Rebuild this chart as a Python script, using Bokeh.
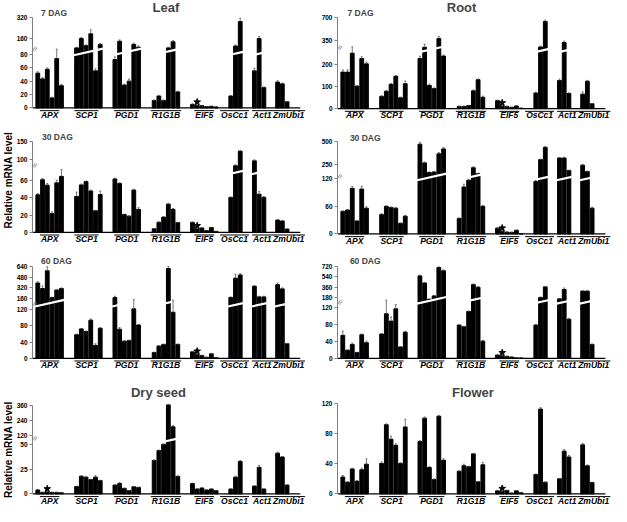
import math
from bokeh.plotting import figure
from bokeh.layouts import column, row
from bokeh.models import Range1d, FixedTicker, Label, Title
from bokeh.embed import file_html
from bokeh.resources import INLINE
from bokeh.core.properties import value

# ---------------- data ----------------
genes = ["APX", "SCP1", "PGD1", "R1G1B", "EIF5", "OsCc1", "Act1", "ZmUbi1"]

leaf_7dag = [[52, 43.4, 57.8, 15, 73.7, 33.3], [90, 160, 107, 196, 55.4, 116],
             [72.3, 140, 34.2, 40, 116, 95], [11, 17.8, 11, 90, 136, 24],
             [5, 4, 3.4, 2, 2.4, 1.5], [17.8, 104, 288], [55.4, 160, 30.4], [38.6, 36, 9.2]]
leaf_7dag_err = [[2, 2, 2, 1, 7, 2], [5, 8, 5, 30, 3, 8], [4, 10, 1.5, 3, 10, 10],
                 [1, 1, 1, 5, 8, 1], [1.5, 0.5, 0.5, 0.3, 0.3, 0.2], [1, 8, 25], [4, 15, 1], [2, 1, 0.5]]
leaf_7dag_ticks = [0, 20, 40, 60, 80, 160, 320]

root_7dag = [[164, 164, 249, 101, 225, 201], [55, 78, 109, 145, 49, 112],
             [225, 255, 104, 90, 384, 236], [10, 10, 14, 80, 130, 51],
             [36, 12, 10, 6, 12, 2], [70, 260, 638], [126, 326, 68], [65, 123, 22]]
root_7dag_err = [[10, 10, 12, 3, 8, 8], [3, 4, 4, 4, 3, 12], [10, 45, 6, 3, 30, 5],
                 [1, 1, 1, 4, 3, 5], [2, 1, 1, 0.5, 1, 0.3], [4, 10, 20], [6, 20, 3], [10, 4, 1]]
root_7dag_ticks = [0, 100, 200, 350, 700]

leaf_30dag = [[43.5, 61, 54.7, 21.7, 57.4, 64.9], [41.6, 55, 58.9, 48, 25, 43.9],
              [61.9, 56.6, 20.6, 18.7, 49, 26.6], [4.1, 11.6, 17.6, 32.6, 26.6, 11.2],
              [11.5, 4, 5, 2, 5.5, 1], [40.5, 81.8, 122.7], [95.5, 44.2, 40.5], [14.2, 13.1, 3.7]]
leaf_30dag_err = [[1.5, 1.5, 2, 2, 3, 6], [5, 1, 0.5, 1, 0.5, 4], [1, 1, 0.5, 0.5, 1, 2],
                  [0.3, 0.5, 0.5, 1, 1, 0.5], [0.5, 0.3, 0.3, 0.2, 0.3, 0.1], [0.5, 3, 2], [3, 3, 1], [0.5, 0.5, 0.3]]
leaf_30dag_ticks = [0, 20, 40, 60, 100, 150]

root_30dag = [[49, 52, 99, 28, 97.5, 56], [42, 60, 57.5, 56, 23, 38.6],
              [471, 264, 157, 164, 364, 418], [33.7, 102, 116.5, 211, 145, 60],
              [12.6, 6, 4, 3.5, 8, 0.5], [114, 300, 436], [318, 318, 179], [239, 168, 56]]
root_30dag_err = [[1, 1, 4, 1, 6, 3], [2, 1, 1, 1, 1, 2], [20, 10, 8, 3, 15, 15],
                  [1, 6, 2, 10, 5, 2], [1, 0.5, 0.3, 0.3, 0.5, 0.1], [2, 5, 8], [5, 8, 5], [10, 5, 2]]
root_30dag_ticks = [0, 60, 120, 250, 500]

leaf_60dag = [[392.6, 308, 580, 170, 284, 308], [58.4, 72.8, 66.4, 94.4, 32, 74.4],
              [170, 72, 42.4, 44, 122.4, 82.4], [14.4, 30.4, 34.4, 615, 114, 34.4],
              [16, 10, 7, 2.4, 11, 1.5], [170, 467, 516], [343, 180, 180], [368, 303, 36]]
leaf_60dag_err = [[20, 40, 60, 5, 10, 10], [1.5, 1, 1, 3, 4, 1.5], [20, 4, 1, 1, 14, 1.5],
                  [0.5, 0.5, 0.5, 30, 15, 1], [1, 0.5, 0.5, 0.2, 1, 0.1], [10, 60, 20], [10, 10, 10], [25, 15, 1]]
leaf_60dag_ticks = [0, 40, 80, 120, 160, 320, 480, 640]

root_60dag = [[54.6, 19.2, 33, 13.8, 56, 37], [57.7, 106, 88.5, 117.7, 27, 62.3],
              [553, 430, 150, 208, 698, 642], [79, 75, 111.5, 403, 358, 40.8],
              [7.7, 6, 4.6, 3, 1, 0.5], [79, 180, 364], [158, 319, 93], [291, 291, 33]]
root_60dag_err = [[10, 1, 3, 0.5, 2, 4], [1, 30, 10, 10, 1, 2], [15, 10, 8, 10, 10, 15],
                  [1, 1, 1, 10, 10, 2], [0.5, 0.5, 0.3, 0.3, 0.1, 0.1], [2, 10, 5], [8, 25, 2], [5, 5, 1]]
root_60dag_ticks = [0, 40, 80, 120, 180, 360, 540, 720]

dry_seed = [[4, 1.5, 2, 1.5, 1.5, 1.2], [7.5, 18, 17, 14.5, 17, 13.5],
            [8.9, 10.5, 5.6, 3.3, 7.2, 6.6], [34, 44, 55, 362, 191, 17.8],
            [10.5, 4.9, 5.9, 3.9, 4.9, 3.3], [4.9, 17, 32.9], [7.9, 27, 4.9], [41.4, 37.5, 8.9]]
dry_seed_err = [[0.3, 0.2, 0.2, 0.2, 0.2, 0.1], [0.3, 0.3, 0.5, 0.3, 1.5, 0.3], [0.3, 1, 0.3, 0.2, 0.3, 0.2],
                [0.5, 0.5, 1, 5, 10, 0.5], [0.5, 0.3, 0.5, 0.3, 0.3, 0.2], [0.3, 1, 1], [0.3, 2, 0.3], [1, 0.5, 0.3]]
dry_seed_ticks = [0, 25, 50, 120, 240, 360]

flower = [[22.3, 15.4, 33, 16.7, 32, 39.4], [40.3, 91.7, 72.4, 64.3, 40.3, 88.7],
          [69.4, 100.3, 35, 18.9, 102.9, 44.6], [30, 37.3, 36, 53, 15.9, 38.6],
          [4, 3, 4.5, 1, 4, 1.5], [25.7, 112.3, 15.4], [20, 56.6, 48.9], [65, 37.3, 15]]
flower_err = [[2, 1, 1, 1, 2, 7], [2, 1, 4, 2, 1, 10], [1, 1.5, 1, 1, 1, 2],
              [0.5, 2, 0.5, 0.5, 0.5, 3], [0.3, 0.3, 0.3, 0.1, 0.3, 0.1], [0.5, 2, 0.5], [0.5, 2, 2], [2, 1, 0.5]]
flower_ticks = [0, 40, 80, 120]

# significance star: (gene, bar index)
star_leaf_7dag = ("EIF5", 1)
star_root_7dag = ("EIF5", 1)
star_leaf_30dag = ("EIF5", 1)
star_root_30dag = ("EIF5", 1)
star_leaf_60dag = ("EIF5", 1)
star_root_60dag = ("EIF5", 1)
star_dry_seed = ("APX", 2)
star_flower = ("EIF5", 1)

y_title = "Relative mRNA level"

# ---------------- layout ----------------
FONT = "Liberation Sans"
group_start = [0, 8.2, 16.3, 24.6, 32.7, 40.8, 45.8, 50.7]
label_shift = [0, -0.4, 0, 0, 0, -0.2, 0.65, 1.35]
em = {"A": .722, "P": .667, "X": .667, "S": .667, "C": .722, "1": .556, "G": .778, "D": .722,
      "R": .722, "B": .722, "E": .667, "I": .278, "F": .611, "O": .778, "s": .556, "c": .556,
      "t": .333, "Z": .611, "m": .889, "U": .722, "b": .611, "i": .278, "5": .556}
LABEL_PX = 8.5
PX_PER_UNIT = 4.73
row_bounds = [(0, 125), (125, 255), (255, 385), (385, 522)]
row_heights = [121, 126, 126, 133]
col_widths = [305, 306]
col_xend = [57.1, 57.3]

specs = [
    dict(vals=leaf_7dag, errs=leaf_7dag_err, ticks=leaf_7dag_ticks, star=star_leaf_7dag,
         base=111, L=80, lo_top=55.33, up_px=(71.67, 93.67), slash0=54.5, brk=61,
         sub=("7 DAG", 1.2, 98.5), title=("Leaf", 27.6, 104), ylab=None),
    dict(vals=root_7dag, errs=root_7dag_err, ticks=root_7dag_ticks, star=star_root_7dag,
         base=111.7, L=250, lo_top=46, up_px=(70, 94.33), slash0=58, brk=63,
         sub=("7 DAG", 1.5, 99.2), title=("Root", 25.6, 104.7), ylab=None),
    dict(vals=leaf_30dag, errs=leaf_30dag_err, ticks=leaf_30dag_ticks, star=star_leaf_30dag,
         base=239.3, L=65, lo_top=53.33, up_px=(75.33, 93.67), slash0=60, brk=69,
         sub=("30 DAG", 1.4, 98), title=None, ylab=19),
    dict(vals=root_30dag, errs=root_30dag_err, ticks=root_30dag_ticks, star=star_root_30dag,
         base=241, L=125, lo_top=57, up_px=(72, 95.33), slash0=55.5, brk=59.5,
         sub=("30 DAG", 2, 99.3), title=None, ylab=None),
    dict(vals=leaf_60dag, errs=leaf_60dag_err, ticks=leaf_60dag_ticks, star=star_leaf_60dag,
         base=369.3, L=128, lo_top=50, up_px=(62, 94.33), slash0=53.5, brk=56,
         sub=("60 DAG", 1.2, 100.6), title=None, ylab=None),
    dict(vals=root_60dag, errs=root_60dag_err, ticks=root_60dag_ticks, star=star_root_60dag,
         base=369.3, L=130, lo_top=52, up_px=(62.67, 95), slash0=56.5, brk=57.7,
         sub=("60 DAG", 2, 100.6), title=None, ylab=None),
    dict(vals=dry_seed, errs=dry_seed_err, ticks=dry_seed_ticks, star=star_dry_seed,
         base=509, L=50, lo_top=50.67, up_px=(59.67, 91.33), slash0=51, brk=57.3,
         sub=None, title=("Dry seed", 26, 104), ylab=8.5),
    dict(vals=flower, errs=flower_err, ticks=flower_ticks, star=star_flower,
         base=509, L=float("inf"), lo_top=93.33, up_px=None, slash0=None, brk=None,
         sub=None, title=("Flower", 28, 104), ylab=None),
]


def make_tf(ticks, L, lo_top, up_px):
    lower = [t for t in ticks if t <= L]
    upper = [t for t in ticks if t > L]
    s_lo = lo_top / lower[-1]
    s_up = (up_px[1] - up_px[0]) / (upper[-1] - upper[0]) if upper else 0.0

    def tf(v):
        v = float(v)
        if v <= L:
            return v * s_lo
        return up_px[0] + (v - upper[0]) * s_up
    return tf


def build(spec, ri, ci):
    tf = make_tf(spec["ticks"], spec["L"], spec["lo_top"], spec["up_px"])
    r0, r1 = row_bounds[ri]
    p = figure(width=col_widths[ci], height=row_heights[ri],
               x_range=Range1d(-0.62, col_xend[ci]),
               y_range=Range1d(spec["base"] - r1, spec["base"] - r0),
               output_backend="svg", toolbar_location=None, x_axis_location=None,
               min_border_left=32, min_border_right=0, min_border_top=0, min_border_bottom=0,
               outline_line_color=None, background_fill_color="white", border_fill_color="white")
    p.grid.visible = False

    xs, tops, e_top, e_bot = [], [], [], []
    slash_x0, slash_x1, slash_y0, slash_y1 = [], [], [], []
    for gi, (vals, errs) in enumerate(zip(spec["vals"], spec["errs"])):
        gs = group_start[gi]
        broken = False
        for bi, (v, e) in enumerate(zip(vals, errs)):
            x = gs + bi + 0.5
            xs.append(x)
            tops.append(tf(v))
            e_bot.append(tf(v))
            e_top.append(tf(v + e))
            if v > spec["L"]:
                broken = True
        if broken:
            n = len(vals)
            slash_x0.append(gs - 0.1)
            slash_x1.append(gs + n + 0.1)
            slash_y0.append(spec["slash0"] - 0.11)
            slash_y1.append(spec["slash0"] + 1.1 * (n + 0.1))

    p.vbar(x=xs, top=tops, bottom=0, width=0.8, color="black")
    if slash_x0:
        p.segment(x0=slash_x0, y0=slash_y0, x1=slash_x1, y1=slash_y1,
                  line_color="white", line_width=2.2)
    p.segment(x0=xs, y0=e_bot, x1=xs, y1=e_top, line_color="#555555", line_width=0.8)
    p.segment(x0=[x - 0.2 for x in xs], y0=e_top, x1=[x + 0.2 for x in xs], y1=e_top,
              line_color="#555555", line_width=0.8)

    # star
    sg, sb = spec["star"]
    gi = genes.index(sg)
    sv = spec["vals"][gi][sb] + spec["errs"][gi][sb]
    p.scatter(x=[group_start[gi] + sb + 0.5], y=[tf(sv) + 3], marker="star", size=7,
              fill_color="black", line_color="black")

    # baseline
    p.segment(x0=[-0.62], y0=[0], x1=[56], y1=[0], line_color="black", line_width=1.2)

    # gene labels with overlines
    lx = [group_start[i] + len(spec["vals"][i]) / 2 + label_shift[i] for i in range(len(genes))]
    half = [(sum(em[c] for c in g) * LABEL_PX + 2) / PX_PER_UNIT / 2 for g in genes]
    p.segment(x0=[a - h for a, h in zip(lx, half)], y0=[-2.8] * len(genes),
              x1=[min(a + h, col_xend[ci] - 0.05) for a, h in zip(lx, half)], y1=[-2.8] * len(genes),
              line_color="black", line_width=1)
    p.text(x=lx, y=[-7] * len(genes), text=genes, text_font=value(FONT),
           text_font_style="bold italic", text_font_size=f"{LABEL_PX}px",
           text_align="center", text_baseline="middle", text_color="black")

    # y axis
    tick_pos = [round(tf(t), 3) for t in spec["ticks"]]
    ax = p.yaxis[0]
    ax.ticker = FixedTicker(ticks=tick_pos)
    ax.major_label_overrides = {pos: str(t) for pos, t in zip(tick_pos, spec["ticks"])}
    ax.bounds = (0, tick_pos[-1])
    ax.axis_line_color = "#808080"
    ax.major_tick_line_color = "#808080"
    ax.major_tick_out = 3
    ax.major_tick_in = 0
    ax.minor_tick_line_color = None
    ax.major_label_standoff = 2
    ax.major_label_text_font = FONT
    ax.major_label_text_font_style = "bold"
    ax.major_label_text_font_size = "6.5px"
    ax.major_label_text_color = "black"

    if spec["brk"] is not None:
        p.add_layout(Label(x=-0.1, y=spec["brk"], text="≈", angle=1.05,
                           text_align="center", text_baseline="middle", text_font=FONT,
                           text_font_size="9px", text_color="#707070"))
    if spec["sub"]:
        t, x, y = spec["sub"]
        p.add_layout(Label(x=x, y=y, text=t, text_align="left", text_baseline="middle",
                           text_font=FONT, text_font_style="bold", text_font_size="8.5px"))
    if spec["title"]:
        t, x, y = spec["title"]
        p.add_layout(Label(x=x, y=y, text=t, text_align="center", text_baseline="middle",
                           text_font=FONT, text_font_style="bold", text_font_size="13px"))
    if spec["ylab"] is not None:
        p.add_layout(Title(text=y_title, align="left", offset=spec["ylab"], standoff=0,
                           text_font=FONT, text_font_style="bold", text_font_size="10px",
                           text_color="black"), "left")
    return p


figs = [build(s, i // 2, i % 2) for i, s in enumerate(specs)]
layout = column(*[row(figs[2 * r], figs[2 * r + 1], spacing=0) for r in range(4)], spacing=0)

with open("out.html", "w") as f:
    f.write(file_html(layout, INLINE))
